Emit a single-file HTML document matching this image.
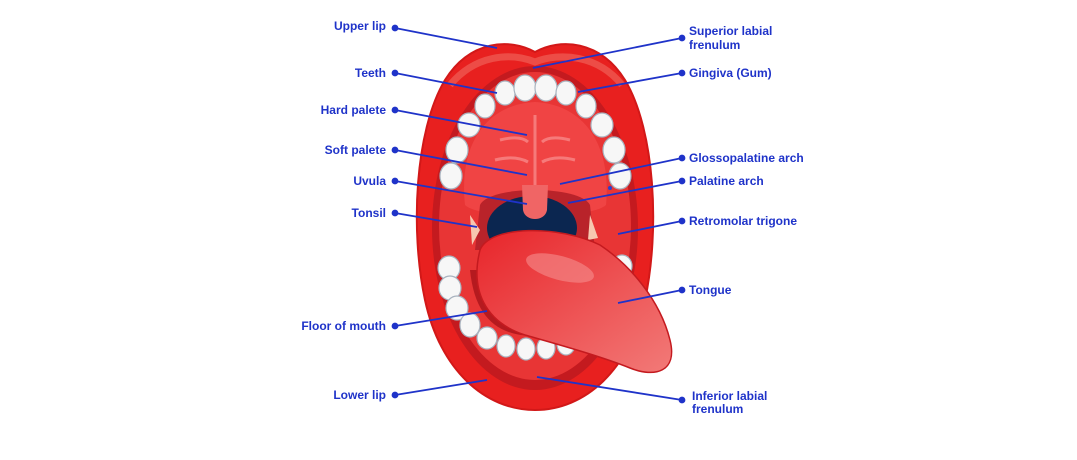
<!DOCTYPE html>
<html><head><meta charset="utf-8"><style>
html,body{margin:0;padding:0;background:#fff;width:1077px;height:460px;overflow:hidden}
svg text{font-family:"Liberation Sans",sans-serif;font-weight:bold;font-size:12px;fill:#1f33c9}
</style></head><body>
<svg width="1077" height="460" viewBox="0 0 1077 460" xmlns="http://www.w3.org/2000/svg">
<defs>
<linearGradient id="tg" x1="0" y1="0" x2="1" y2="1"><stop offset="0" stop-color="#e8252a"/><stop offset="1" stop-color="#f27a78"/></linearGradient>
</defs>
<!-- lips outer -->
<path d="M535 52 C560 38 600 40 625 80 C655 130 660 230 645 300 C630 370 585 410 535 410 C485 410 440 370 425 300 C410 230 415 130 445 80 C470 40 510 38 535 52Z" fill="#e8201f" stroke="#d21818" stroke-width="2"/>
<path d="M450 85 C475 55 510 52 535 62 C560 52 598 55 622 85" fill="none" stroke="#f06a60" stroke-width="7" opacity=".6"/>
<!-- inner mouth -->
<ellipse cx="535" cy="228" rx="103" ry="162" fill="#c41a1f"/>
<ellipse cx="535" cy="226" rx="96" ry="154" fill="#e83535"/>
<!-- upper teeth -->
<g fill="#f7f7f7" stroke="#a9b3bf" stroke-width="1.2">
<ellipse cx="451" cy="176" rx="11" ry="13"/>
<ellipse cx="457" cy="150" rx="11" ry="13"/>
<ellipse cx="469" cy="125" rx="11" ry="12"/>
<ellipse cx="485" cy="106" rx="10" ry="12"/>
<ellipse cx="505" cy="93" rx="10" ry="12"/>
<ellipse cx="525" cy="88" rx="11" ry="13"/>
<ellipse cx="546" cy="88" rx="11" ry="13"/>
<ellipse cx="566" cy="93" rx="10" ry="12"/>
<ellipse cx="586" cy="106" rx="10" ry="12"/>
<ellipse cx="602" cy="125" rx="11" ry="12"/>
<ellipse cx="614" cy="150" rx="11" ry="13"/>
<ellipse cx="620" cy="176" rx="11" ry="13"/>
</g>
<!-- palate -->
<path d="M465 205 C458 140 490 104 535 102 C580 104 612 140 606 205 C590 220 480 220 465 205Z" fill="#f04444"/>
<g stroke="#f67a7a" stroke-width="3" fill="none">
<path d="M500 140 Q520 135 528 142"/><path d="M570 140 Q550 135 542 142"/>
<path d="M495 160 Q515 155 528 162"/><path d="M575 160 Q555 155 542 162"/>
<line x1="535" y1="115" x2="535" y2="190"/>
</g>
<!-- throat -->
<path d="M480 205 C490 185 580 185 590 205 L595 250 L475 250Z" fill="#b9232a"/>
<ellipse cx="532" cy="228" rx="45" ry="32" fill="#0b2650"/>
<path d="M522 185 L548 185 L547 210 C545 222 525 222 523 210Z" fill="#f06565"/>
<path d="M470 215 L480 230 L472 245Z" fill="#f7c8b0"/>
<path d="M590 215 L598 238 L588 240Z" fill="#f7c8b0"/>
<!-- lower teeth -->
<g fill="#f7f7f7" stroke="#a9b3bf" stroke-width="1.2">
<ellipse cx="449" cy="268" rx="11" ry="12"/>
<ellipse cx="450" cy="288" rx="11" ry="12"/>
<ellipse cx="457" cy="308" rx="11" ry="12"/>
<ellipse cx="470" cy="325" rx="10" ry="12"/>
<ellipse cx="487" cy="338" rx="10" ry="11"/>
<ellipse cx="506" cy="346" rx="9" ry="11"/>
<ellipse cx="526" cy="349" rx="9" ry="11"/>
<ellipse cx="546" cy="348" rx="9" ry="11"/>
<ellipse cx="566" cy="344" rx="9" ry="11"/>
<ellipse cx="622" cy="266" rx="10" ry="11"/>
</g>
<!-- floor -->
<path d="M470 270 C475 320 500 336 535 336 C565 336 590 320 600 270Z" fill="#b51a1f"/>
<!-- tongue -->
<path d="M480 250 C490 225 560 225 600 245 C630 265 660 300 670 340 C678 372 655 378 630 368 C600 356 560 345 525 335 C485 322 470 290 480 250Z" fill="url(#tg)" stroke="#c41a1f" stroke-width="1.5"/>
<ellipse cx="560" cy="268" rx="35" ry="12" fill="#f58d8d" opacity=".6" transform="rotate(15 560 268)"/>
<!-- labels lines -->
<g stroke="#1f33c9" stroke-width="1.8" fill="#1f33c9">
<line x1="395" y1="28" x2="497" y2="48"/><circle cx="395" cy="28" r="2.5"/>
<line x1="395" y1="73" x2="497" y2="93"/><circle cx="395" cy="73" r="2.5"/>
<line x1="395" y1="110" x2="527" y2="135"/><circle cx="395" cy="110" r="2.5"/>
<line x1="395" y1="150" x2="527" y2="175"/><circle cx="395" cy="150" r="2.5"/>
<line x1="395" y1="181" x2="527" y2="204"/><circle cx="395" cy="181" r="2.5"/>
<line x1="395" y1="213" x2="477" y2="227"/><circle cx="395" cy="213" r="2.5"/>
<line x1="395" y1="326" x2="487" y2="311"/><circle cx="395" cy="326" r="2.5"/>
<line x1="395" y1="395" x2="487" y2="380"/><circle cx="395" cy="395" r="2.5"/>
<line x1="533" y1="68" x2="682" y2="38"/><circle cx="682" cy="38" r="2.5"/>
<line x1="578" y1="92" x2="682" y2="73"/><circle cx="682" cy="73" r="2.5"/>
<line x1="560" y1="184" x2="682" y2="158"/><circle cx="682" cy="158" r="2.5"/>
<line x1="568" y1="203" x2="682" y2="181"/><circle cx="682" cy="181" r="2.5"/>
<line x1="618" y1="234" x2="682" y2="221"/><circle cx="682" cy="221" r="2.5"/>
<line x1="618" y1="303" x2="682" y2="290"/><circle cx="682" cy="290" r="2.5"/>
<line x1="537" y1="377" x2="682" y2="400"/><circle cx="682" cy="400" r="2.5"/>
</g>
<circle cx="610" cy="188" r="2" fill="#2a3fd0"/>
<g text-anchor="end">
<text x="386" y="30">Upper lip</text>
<text x="386" y="77">Teeth</text>
<text x="386" y="114">Hard palete</text>
<text x="386" y="154">Soft palete</text>
<text x="386" y="185">Uvula</text>
<text x="386" y="217">Tonsil</text>
<text x="386" y="330">Floor of mouth</text>
<text x="386" y="399">Lower lip</text>
</g>
<text x="689" y="35">Superior labial</text>
<text x="689" y="49">frenulum</text>
<text x="689" y="77">Gingiva (Gum)</text>
<text x="689" y="162">Glossopalatine arch</text>
<text x="689" y="185">Palatine arch</text>
<text x="689" y="225">Retromolar trigone</text>
<text x="689" y="294">Tongue</text>
<text x="692" y="400">Inferior labial</text>
<text x="692" y="413">frenulum</text>
</svg>
</body></html>
